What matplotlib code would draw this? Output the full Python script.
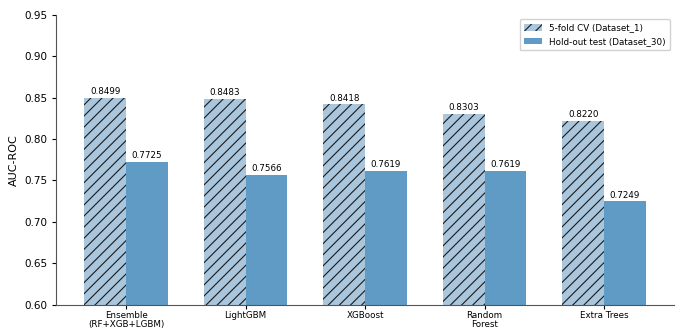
import numpy as np
import matplotlib.pyplot as plt

models = ["Ensemble\n(RF+XGB+LGBM)", "LightGBM", "XGBoost", "Random\nForest", "Extra Trees"]
cv_auc = [0.8499, 0.8483, 0.8418, 0.8303, 0.8220]
holdout_auc = [0.7725, 0.7566, 0.7619, 0.7619, 0.7249]

plt.rcParams['hatch.linewidth'] = 0.8

fig, ax = plt.subplots(figsize=(6.78, 3.30), dpi=100)
fig.subplots_adjust(left=0.083, right=0.994, bottom=0.077, top=0.955)

x = np.arange(len(models))
width = 0.35

# hatch takes the edge colour, so keep the outline itself at zero width
b1 = ax.bar(x - width / 2, cv_auc, width, color='#a9c6dd', edgecolor='#1a1a1a',
            linewidth=0, hatch='///', label='5-fold CV (Dataset_1)')
b2 = ax.bar(x + width / 2, holdout_auc, width, color='#5f9bc4',
            label='Hold-out test (Dataset_30)')

for bars in (b1, b2):
    for bar in bars:
        h = bar.get_height()
        ax.text(bar.get_x() + bar.get_width() / 2, h + 0.002, f"{h:.4f}",
                ha='center', va='bottom', fontsize=6.3)

ax.set_ylim(0.60, 0.95)
ax.set_yticks(np.arange(0.60, 0.951, 0.05))
ax.set_xticks(x)
ax.set_xticklabels(models, fontsize=6.3, linespacing=1.05)
ax.tick_params(axis='x', pad=1.5, length=3)
ax.tick_params(axis='y', labelsize=7.5, length=3)
ax.set_ylabel("AUC-ROC", fontsize=8)

ax.spines['top'].set_visible(False)
ax.spines['right'].set_visible(False)
for s in ('left', 'bottom'):
    ax.spines[s].set_color('#555555')

ax.legend(loc='upper right', fontsize=6.3, framealpha=0.9, borderpad=0.5)

fig.savefig("out.png")
